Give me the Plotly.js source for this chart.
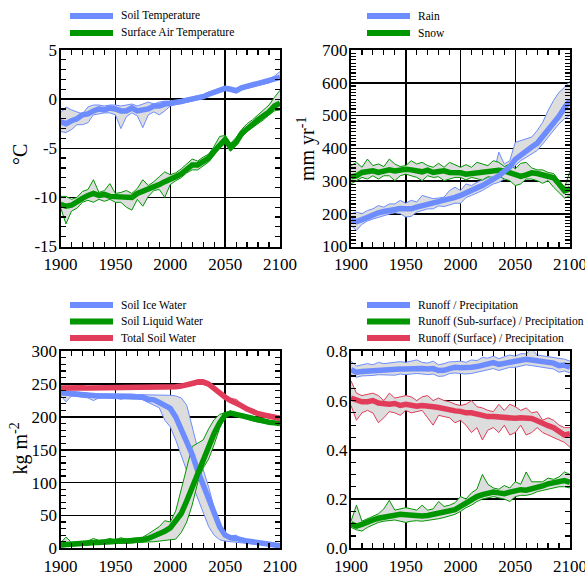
<!DOCTYPE html>
<html><head><meta charset="utf-8">
<script src="https://cdn.plot.ly/plotly-3.0.1.min.js"></script>
<style>html,body{margin:0;padding:0;background:#fff}#chart{width:585px;height:578px}</style>
</head><body><div id="chart"></div>
<script>
// ---------------- DATA ----------------
const years = [1900,1905,1910,1915,1920,1925,1930,1935,1940,1945,1950,1955,1960,1965,1970,1975,1980,1985,1990,1995,2000,2005,2010,2015,2020,2025,2030,2035,2040,2045,2050,2055,2060,2065,2070,2075,2080,2085,2090,2095,2100];

// Panel 1: temperature (°C)
const soilTempMean = [-2.3,-2.5,-2.2,-2.0,-1.6,-1.5,-1.2,-1.0,-1.1,-0.9,-1.0,-1.2,-1.2,-0.9,-1.2,-1.1,-1.0,-0.7,-0.7,-0.5,-0.45,-0.35,-0.25,-0.1,0.0,0.15,0.25,0.5,0.7,0.95,1.1,1.0,0.85,1.15,1.3,1.45,1.6,1.75,1.85,2.1,2.2];
const soilTempHi   = [-1.4,-0.8,-1.1,-1.3,-1.5,-0.8,-0.6,-0.6,-0.7,-0.6,-0.6,-0.7,-0.6,-0.5,-0.7,-0.5,-0.3,-0.5,-0.3,-0.2,-0.25,-0.15,-0.05,0.1,0.2,0.35,0.45,0.7,0.9,1.15,1.3,1.2,1.05,1.35,1.5,1.65,1.8,1.95,2.05,2.35,2.8];
const soilTempLo   = [-3.3,-3.4,-3.1,-2.6,-2.6,-2.4,-1.6,-1.5,-1.4,-1.4,-1.6,-3.0,-1.8,-1.4,-1.7,-2.9,-1.6,-1.3,-1.6,-1.2,-0.7,-0.55,-0.45,-0.3,-0.2,-0.05,0.05,0.3,0.5,0.75,0.9,0.8,0.65,0.95,1.1,1.25,1.4,1.55,1.65,1.9,2.0];
const airTempMean  = [-10.7,-10.9,-10.8,-10.4,-10.1,-9.8,-9.6,-9.8,-9.7,-9.9,-9.9,-10.0,-9.9,-10.0,-9.6,-9.4,-9.2,-8.9,-8.7,-8.4,-8.2,-7.9,-7.6,-7.1,-6.7,-6.7,-6.3,-6.0,-5.3,-4.6,-4.1,-4.9,-4.4,-3.5,-3.0,-2.5,-2.1,-1.7,-1.3,-0.7,-0.4];
const airTempHi    = [-9.9,-9.9,-10.2,-10.0,-9.4,-9.2,-8.2,-9.5,-9.3,-8.6,-9.6,-9.5,-9.3,-9.6,-9.1,-8.2,-8.8,-8.4,-7.9,-7.4,-7.7,-7.5,-7.1,-6.6,-6.1,-6.3,-5.9,-5.6,-4.8,-3.8,-3.7,-4.5,-3.9,-3.1,-2.5,-2.1,-1.6,-1.2,-0.6,0.2,0.9];
const airTempLo    = [-11.0,-12.7,-11.4,-11.1,-10.5,-10.3,-10.5,-10.2,-10.4,-10.2,-10.5,-10.5,-11.0,-11.3,-10.2,-10.9,-9.9,-9.3,-9.2,-10.0,-8.7,-8.3,-8.0,-7.5,-7.2,-7.2,-6.8,-6.4,-5.7,-5.0,-4.5,-5.3,-4.7,-3.9,-3.3,-2.9,-2.5,-2.1,-1.6,-1.2,-1.1];

// Panel 2: precipitation (mm/yr)
const rainMean = [180,176,182,190,196,203,207,210,214,216,215,215,220,224,228,231,235,238,242,250,256,265,271,279,286,294,306,316,327,343,366,380,390,404,415,435,458,478,498,524,546];
const rainHi   = [200,205,200,210,215,225,220,230,230,241,232,241,236,256,251,246,248,251,271,281,271,291,286,296,303,310,321,388,352,362,418,423,428,434,454,479,515,546,571,586,605];
const rainLo   = [164,149,168,178,184,189,196,199,203,200,190,192,205,210,215,215,224,222,227,232,232,249,256,263,271,281,291,296,306,321,347,362,372,383,393,413,434,454,475,490,500];
const snowMean = [313,316,326,328,331,326,328,334,331,334,336,334,331,328,333,326,329,331,326,326,325,321,323,326,326,329,331,333,331,326,318,314,319,325,323,319,313,310,291,270,276];
const snowHi   = [347,357,342,367,347,352,344,367,352,344,347,362,352,357,347,342,354,342,357,350,342,350,342,357,352,347,362,357,344,352,337,354,357,340,334,334,326,323,301,281,330];
const snowLo   = [291,301,311,306,316,306,316,316,301,316,321,316,311,301,316,311,313,301,306,311,311,303,311,306,303,313,311,316,306,301,286,291,306,306,301,293,301,281,266,248,255];

// Panel 3: soil water (kg/m2)
const iceMean = [237,236,235,234,233,233,232,232,232,232,232,232,232,231,231,230,227,226,222,217,213,200,182,164,143,118,97,77,52,33,20,16,15,12,11,10,9,7,6,5,4];
const iceHi   = [241,240,238,237,236,236,235,235,235,236,235,236,235,235,234,234,233,233,233,234,233,232,229,218,187,152,120,93,62,35,22,19,20,14,13,12,11,9,8,7,6];
const iceLo   = [233,223,232,231,230,229,225,229,229,229,229,227,229,228,228,226,222,218,214,195,185,165,140,118,98,76,55,33,20,13,11,10,10,9,8,7,6,5,4,3,2];
const liqMean = [5,6,6,7,7,8,9,9,10,10,10,11,11,11,12,13,15,18,21,26,31,41,53,72,92,116,137,156,175,191,203,206,204,201,199,196,194,193,192,191,190];
const liqHi   = [8,17,9,10,10,11,15,12,13,15,13,16,14,15,16,17,22,28,33,42,40,57,90,122,155,160,165,182,196,204,207,209,206,203,201,198,196,195,194,193,192];
const liqLo   = [2,3,3,4,4,5,6,6,7,7,7,8,8,8,9,9,10,10,11,12,13,14,24,40,66,100,122,136,158,183,200,204,202,199,197,194,192,191,190,189,188];
const totMean = [244,244.5,244,244,244.5,244,244,244,244,244,244,244,244,244,244,244,244,244,244,244.5,245,246,247,248,251,253,253,250,243,237,230,225,222,217,212,208,205,203,201,199,198];
const totHi   = [246,247,246,246,246.5,246,246,246,246,246,246,246,246,246,246,246,246,246,246,247,247,248,249,251,254,257,257,254,246,240,233,228,227,220,215,211,208,206,204,202,201];
const totLo   = [242,242,242,242,242,242,242,242,242,242,242,242,242,242,242,242,242,242,242,242,243,244,245,246,248,250,250,247,240,234,227,222,219,214,209,205,202,200,198,196,195];

// Panel 4: runoff ratios
const roMean = [0.725,0.715,0.718,0.72,0.722,0.724,0.725,0.727,0.725,0.728,0.728,0.73,0.73,0.73,0.728,0.73,0.722,0.723,0.73,0.735,0.733,0.732,0.735,0.738,0.745,0.75,0.754,0.747,0.752,0.758,0.76,0.765,0.768,0.765,0.762,0.76,0.754,0.752,0.742,0.744,0.735];
const roHi   = [0.76,0.74,0.745,0.75,0.745,0.755,0.75,0.752,0.755,0.758,0.755,0.76,0.765,0.755,0.752,0.76,0.745,0.75,0.757,0.758,0.76,0.755,0.765,0.762,0.775,0.772,0.78,0.77,0.778,0.785,0.78,0.79,0.79,0.81,0.785,0.782,0.778,0.775,0.77,0.768,0.76];
const roLo   = [0.705,0.695,0.70,0.70,0.702,0.705,0.705,0.705,0.703,0.708,0.705,0.708,0.71,0.708,0.705,0.708,0.698,0.70,0.71,0.712,0.71,0.708,0.71,0.715,0.72,0.725,0.73,0.722,0.728,0.735,0.735,0.74,0.745,0.742,0.738,0.735,0.73,0.728,0.715,0.72,0.712];
const subMean = [0.10,0.09,0.097,0.108,0.115,0.122,0.127,0.13,0.135,0.138,0.136,0.133,0.131,0.131,0.133,0.137,0.143,0.145,0.15,0.157,0.17,0.185,0.198,0.21,0.218,0.225,0.228,0.225,0.222,0.228,0.232,0.238,0.236,0.24,0.248,0.253,0.262,0.265,0.27,0.275,0.268];
const subHi   = [0.11,0.175,0.11,0.12,0.13,0.14,0.16,0.195,0.155,0.16,0.165,0.16,0.155,0.175,0.155,0.16,0.19,0.17,0.175,0.185,0.21,0.20,0.225,0.24,0.30,0.26,0.245,0.24,0.255,0.245,0.27,0.26,0.31,0.27,0.27,0.27,0.285,0.28,0.29,0.31,0.30];
const subLo   = [0.085,0.075,0.07,0.085,0.095,0.105,0.11,0.112,0.115,0.11,0.105,0.11,0.112,0.11,0.113,0.115,0.12,0.125,0.13,0.138,0.15,0.165,0.175,0.19,0.20,0.205,0.21,0.205,0.20,0.19,0.21,0.215,0.215,0.22,0.23,0.235,0.24,0.245,0.25,0.25,0.245];
const surfMean = [0.61,0.60,0.595,0.595,0.60,0.59,0.585,0.585,0.588,0.58,0.585,0.58,0.577,0.58,0.58,0.575,0.572,0.567,0.56,0.558,0.556,0.55,0.55,0.545,0.537,0.535,0.535,0.532,0.53,0.53,0.528,0.53,0.53,0.527,0.518,0.505,0.498,0.49,0.478,0.46,0.465];
const surfHi   = [0.68,0.63,0.62,0.625,0.63,0.62,0.60,0.63,0.61,0.615,0.62,0.615,0.60,0.615,0.62,0.60,0.61,0.60,0.595,0.585,0.58,0.585,0.60,0.575,0.57,0.56,0.555,0.585,0.56,0.585,0.575,0.56,0.57,0.55,0.555,0.52,0.53,0.52,0.50,0.49,0.49];
const surfLo   = [0.58,0.52,0.55,0.56,0.55,0.51,0.53,0.555,0.55,0.54,0.56,0.55,0.555,0.56,0.53,0.50,0.54,0.535,0.53,0.51,0.52,0.50,0.47,0.49,0.44,0.48,0.49,0.47,0.50,0.46,0.47,0.50,0.46,0.47,0.49,0.47,0.46,0.45,0.44,0.43,0.41];

// Tick labels
const xTickVals = [1900,1950,2000,2050,2100];
const xTickText = ['1900','1950','2000','2050','2100'];
const y1TickVals = [-15,-10,-5,0,5];
const y1TickText = ['-15','-10','-5','0','5'];
const y2TickVals = [100,200,300,400,500,600,700];
const y2TickText = ['100','200','300','400','500','600','700'];
const y3TickVals = [0,50,100,150,200,250,300];
const y3TickText = ['0','50','100','150','200','250','300'];
const y4TickVals = [0,0.2,0.4,0.6,0.8];
const y4TickText = ['0.0','0.2','0.4','0.6','0.8'];

// Axis titles and legend labels
const yTitles = ['°C', 'mm yr<sup>-1</sup>', 'kg m<sup>-2</sup>'];
const legend1 = ['Soil Temperature','Surface Air Temperature'];
const legend2 = ['Rain','Snow'];
const legend3 = ['Soil Ice Water','Soil Liquid Water','Total Soil Water'];
const legend4 = ['Runoff / Precipitation','Runoff (Sub-surface) / Precipitation','Runoff (Surface) / Precipitation'];

// ---------------- STYLE ----------------
const BLUE = 'rgb(108,140,255)', GREEN = 'rgb(0,150,0)', RED = 'rgb(225,60,90)', FILL = 'rgb(221,221,221)';
const W = 585, H = 578;
const FONT = 'Liberation Serif';

function band(lo, hi, color, xa, ya) {
  return [
    {x: years, y: lo, xaxis: xa, yaxis: ya, mode: 'lines', line: {color: color, width: 1}, showlegend: false, hoverinfo: 'skip'},
    {x: years, y: hi, xaxis: xa, yaxis: ya, mode: 'lines', line: {color: color, width: 1}, fill: 'tonexty', fillcolor: FILL, showlegend: false, hoverinfo: 'skip'}
  ];
}
function meanLine(y, color, xa, ya, name) {
  return {x: years, y: y, xaxis: xa, yaxis: ya, mode: 'lines', name: name, line: {color: color, width: 5.5}, showlegend: false};
}

const traces = [].concat(
  band(soilTempLo, soilTempHi, BLUE, 'x', 'y'),
  band(airTempLo, airTempHi, GREEN, 'x', 'y'),
  [meanLine(soilTempMean, BLUE, 'x', 'y', legend1[0]), meanLine(airTempMean, GREEN, 'x', 'y', legend1[1])],
  band(rainLo, rainHi, BLUE, 'x2', 'y2'),
  band(snowLo, snowHi, GREEN, 'x2', 'y2'),
  [meanLine(snowMean, GREEN, 'x2', 'y2', legend2[1]), meanLine(rainMean, BLUE, 'x2', 'y2', legend2[0])],
  band(iceLo, iceHi, BLUE, 'x3', 'y3'),
  band(liqLo, liqHi, GREEN, 'x3', 'y3'),
  band(totLo, totHi, RED, 'x3', 'y3'),
  [meanLine(iceMean, BLUE, 'x3', 'y3', legend3[0]), meanLine(liqMean, GREEN, 'x3', 'y3', legend3[1]), meanLine(totMean, RED, 'x3', 'y3', legend3[2])],
  band(roLo, roHi, BLUE, 'x4', 'y4'),
  band(subLo, subHi, GREEN, 'x4', 'y4'),
  band(surfLo, surfHi, RED, 'x4', 'y4'),
  [meanLine(roMean, BLUE, 'x4', 'y4', legend4[0]), meanLine(subMean, GREEN, 'x4', 'y4', legend4[1]), meanLine(surfMean, RED, 'x4', 'y4', legend4[2])]
);

function axis(domain, anchor, range, tickvals, ticktext, minorDtick, standoff) {
  return {
    domain: domain, anchor: anchor, range: range, tickmode: 'array', tickvals: tickvals, ticktext: ticktext,
    showgrid: true, gridcolor: 'black', gridwidth: 1.5, zeroline: false,
    showline: true, linecolor: 'black', linewidth: 2, mirror: 'allticks',
    ticks: 'inside', ticklen: 5, tickwidth: 1, tickcolor: 'black',
    minor: {dtick: minorDtick, ticks: 'inside', ticklen: 5, tickwidth: 1.2, tickcolor: 'black', showgrid: false},
    tickfont: {family: FONT, size: 17, color: 'black'}, ticklabelstandoff: standoff, ticklabeloverflow: 'allow',
    fixedrange: true
  };
}
const px = v => v / W, py = v => (H - v) / H;
const xL = [px(60.5), px(280)], xR = [px(351), px(570)];
const yT = [py(246.5), py(50)], yB = [py(548.3), py(351.3)];

const layout = {
  width: W, height: H, margin: {l: 0, r: 0, t: 0, b: 0},
  font: {family: FONT},
  paper_bgcolor: 'white', plot_bgcolor: 'white', showlegend: false,
  xaxis: axis(xL, 'y', [1900, 2100], xTickVals, xTickText, 10, 1),
  yaxis: axis(yT, 'x', [-15, 5], y1TickVals, y1TickText, 1, -2),
  xaxis2: axis(xR, 'y2', [1900, 2100], xTickVals, xTickText, 10, 1),
  yaxis2: axis(yT, 'x2', [100, 700], y2TickVals, y2TickText, 10, -2),
  xaxis3: axis(xL, 'y3', [1900, 2100], xTickVals, xTickText, 10, 1),
  yaxis3: axis(yB, 'x3', [0, 300], y3TickVals, y3TickText, 10, -2),
  xaxis4: axis(xR, 'y4', [1900, 2100], xTickVals, xTickText, 10, 1),
  yaxis4: axis(yB, 'x4', [0, 0.8], y4TickVals, y4TickText, 0.05, -2),
  shapes: [], annotations: []
};

// y-axis titles (rotated)
[[yTitles[0], 20, 155], [yTitles[1], 307, 149], [yTitles[2], 18.5, 449]].forEach(([t, x, y]) => {
  layout.annotations.push({xref: 'paper', yref: 'paper', x: px(x), y: py(y), xanchor: 'center', yanchor: 'middle',
    text: t, textangle: -90, showarrow: false, font: {family: FONT, size: 20, color: 'black'}});
});

// manual legends above each panel
function addLegend(labels, colors, x0, x1, xt, rows) {
  labels.forEach((lab, i) => {
    layout.shapes.push({type: 'line', xref: 'paper', yref: 'paper', x0: px(x0), x1: px(x1), y0: py(rows[i]), y1: py(rows[i]),
      line: {color: colors[i], width: 6}});
    layout.annotations.push({xref: 'paper', yref: 'paper', x: px(xt), y: py(rows[i]), xanchor: 'left', yanchor: 'middle',
      text: lab, showarrow: false, font: {family: FONT, size: 11.5, color: 'black'}});
  });
}
addLegend(legend1, [BLUE, GREEN], 70, 113, 119, [16, 33]);
addLegend(legend2, [BLUE, GREEN], 367, 410, 416, [16, 33]);
addLegend(legend3, [BLUE, GREEN, RED], 70, 113, 119, [305, 321.5, 338]);
addLegend(legend4, [BLUE, GREEN, RED], 367, 410, 416, [305, 321.5, 338]);

Plotly.newPlot('chart', traces, layout, {displayModeBar: false, staticPlot: true});
</script>
</body></html>
